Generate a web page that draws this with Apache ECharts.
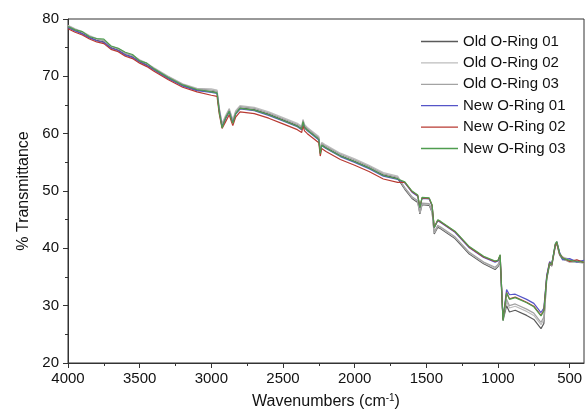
<!DOCTYPE html>
<html>
<head>
    <meta charset="utf-8">
    <title>FTIR O-Ring</title>
    <script src="https://cdn.jsdelivr.net/npm/echarts@6.0.0/dist/echarts.min.js"></script>
</head>
<body style="margin:0px;background-color:#fff;">
    <div id="main" style="width:587px;height:416px;"></div>
    <script type="text/javascript">
        // wavenumbers (cm-1), shared by all six spectra
        var wavenumbers = [4000,3950,3900,3850,3800,3750,3700,3650,3600,3550,3500,3450,3400,3300,3200,3100,
            3000,2960,2945,2925,2900,2875,2860,2850,2830,2800,2700,2600,2500,2400,2370,2360,2350,2330,2250,2240,2230,2200,2100,2000,1900,1800,1700,
            1650,1600,1560,1545,1530,1480,1460,1445,1420,1400,1300,1200,1100,1020,
            1000,985,965,940,920,880,800,750,700,680,
            660,640,625,600,590,570,550,500,450,400];

        var oldRing01 = [78.6,78.0,77.5,76.8,76.3,76.0,75.0,74.6,73.8,73.4,72.6,72.0,71.2,69.7,68.4,67.6,
            67.4,67.2,64.2,61.4,62.8,64.0,62.8,62.1,63.6,64.5,64.2,63.4,62.4,61.4,60.9,62.1,61.2,60.7,59.1,56.8,58.1,57.6,56.2,55.2,54.1,52.8,52.2,
            50.3,48.7,48.0,46.0,47.6,47.5,46.3,42.5,43.7,43.4,41.7,39.0,37.3,36.3,
            36.8,37.7,27.4,30.0,28.9,29.2,28.3,27.6,26.0,26.9,
            34.6,37.2,36.9,40.4,40.8,38.8,38.1,37.7,37.9,37.5];
        var oldRing02 = [78.9,78.3,77.8,77.1,76.6,76.3,75.3,74.9,74.1,73.7,72.9,72.3,71.5,70.0,68.7,67.9,
            67.8,67.6,64.6,61.8,63.2,64.4,63.2,62.5,64.0,64.9,64.6,63.8,62.8,61.8,61.3,62.5,61.6,61.1,59.5,57.2,58.5,58.0,56.6,55.6,54.5,53.2,52.6,
            50.5,48.9,48.2,46.2,47.8,47.7,46.5,42.7,43.9,43.6,41.9,39.2,37.5,36.5,
            37.0,37.9,27.8,30.7,29.6,29.9,29.0,28.3,26.7,27.6,
            35.2,37.6,37.3,40.8,41.2,39.2,38.5,38.1,37.8,37.8];
        var oldRing03 = [78.8,78.2,77.7,77.0,76.5,76.2,75.2,74.8,74.0,73.6,72.8,72.2,71.4,69.9,68.6,67.8,
            67.6,67.4,64.4,61.6,63.0,64.2,63.0,62.3,63.8,64.7,64.4,63.6,62.6,61.6,61.1,62.3,61.4,60.9,59.3,57.0,58.3,57.8,56.4,55.4,54.3,53.0,52.4,
            50.6,49.0,48.3,46.3,47.9,47.8,46.6,42.8,44.0,43.7,42.0,39.3,37.6,36.7,
            37.2,38.1,27.5,31.1,30.0,30.3,29.4,28.7,27.1,28.0,
            35.0,37.4,37.0,40.5,40.9,38.9,38.2,37.6,37.6,37.4];
        var newRing01 = [78.5,77.9,77.4,76.7,76.2,75.9,74.9,74.5,73.7,73.3,72.5,71.9,71.1,69.6,68.3,67.5,
            67.2,67.0,64.0,61.2,62.6,63.8,62.6,61.9,63.4,64.3,64.0,63.2,62.2,61.2,60.7,61.9,61.0,60.5,58.9,56.6,57.9,57.4,56.0,55.0,53.9,52.6,52.0,
            51.4,49.8,49.1,47.1,48.7,48.6,47.4,43.6,44.8,44.5,42.8,40.1,38.4,37.6,
            37.8,38.7,27.7,32.8,31.9,32.0,31.1,30.4,28.8,29.6,
            35.3,37.7,37.2,40.7,41.1,39.3,38.0,38.2,37.6,37.9];
        var newRing02 = [78.3,77.7,77.2,76.5,76.0,75.7,74.7,74.3,73.5,73.1,72.3,71.7,70.9,69.4,68.1,67.3,
            66.7,66.5,63.5,60.9,62.1,63.3,62.1,61.4,62.9,63.8,63.5,62.7,61.7,60.7,60.2,61.4,60.5,60.0,58.4,56.1,57.4,56.9,55.5,54.5,53.4,52.1,51.5,
            51.5,49.9,49.2,47.2,48.8,48.7,47.5,43.7,44.9,44.6,42.9,40.2,38.5,37.7,
            37.9,38.8,27.6,32.3,31.2,31.5,30.6,29.9,28.3,29.2,
            35.0,37.5,37.1,40.6,41.0,39.0,38.4,37.7,38.0,37.5];
        var newRing03 = [78.7,78.1,77.8,76.9,76.6,76.5,75.3,74.9,74.2,73.8,72.7,72.3,71.3,69.8,68.5,67.7,
            67.3,67.1,63.8,61.0,62.8,63.9,62.5,61.8,63.5,64.4,64.1,63.3,62.3,61.3,60.8,62.1,61.1,60.6,59.0,56.5,58.0,57.5,56.1,55.1,54.0,52.7,52.1,
            51.6,50.0,49.3,47.1,48.9,48.8,47.6,43.6,45.0,44.7,43.0,40.3,38.6,37.8,
            37.9,38.9,27.4,32.2,31.1,31.4,30.5,29.8,28.2,29.1,
            34.8,37.4,37.2,40.8,41.2,39.1,38.3,37.9,37.7,37.6];

        var seriesNames = ['Old O-Ring 01', 'Old O-Ring 02', 'Old O-Ring 03', 'New O-Ring 01', 'New O-Ring 02', 'New O-Ring 03'];
        var seriesValues = [oldRing01, oldRing02, oldRing03, newRing01, newRing02, newRing03];
        var seriesColors = ['#5a5a5a', '#bdbdbd', '#a3a3a3', '#5555c8', '#b83a32', '#4f9d4f'];

        var majorTicks = [4000, 3500, 3000, 2500, 2000, 1500, 1000, 500];
        var minorTicks = [3750, 3250, 2750, 2250, 1750, 1250, 750];

        function pairs(vals) {
            var out = [];
            for (var i = 0; i < wavenumbers.length; i++) {
                out.push([wavenumbers[i], vals[i]]);
            }
            return out;
        }

        var series = [];
        for (var i = 0; i < seriesNames.length; i++) {
            series.push({
                name: seriesNames[i],
                type: 'line',
                xAxisIndex: 0,
                symbol: 'none',
                silent: true,
                lineStyle: { width: 1.2, color: seriesColors[i] },
                itemStyle: { color: seriesColors[i] },
                data: pairs(seriesValues[i])
            });
        }

        var font = 'Liberation Sans';
        var myChart = echarts.init(document.getElementById('main'));
        var option = {
            animation: false,
            textStyle: { fontFamily: font },
            grid: {
                left: 68, right: 3, top: 19, bottom: 53,
                show: true, borderColor: '#333', borderWidth: 1
            },
            legend: {
                orient: 'vertical',
                left: 416, top: 29,
                itemWidth: 37, itemHeight: 14, itemGap: 6.4,
                icon: 'path://M0,0 L37,0 L37,1.3 L0,1.3 Z',
                textStyle: { fontFamily: font, fontSize: 15, color: '#111' },
                data: seriesNames
            },
            xAxis: [{
                type: 'value',
                inverse: true,
                min: 400, max: 4000,
                name: 'Wavenumbers (cm{sup|-1})',
                nameLocation: 'middle',
                nameGap: 30,
                nameTextStyle: {
                    fontFamily: font, fontSize: 16, color: '#111',
                    rich: { sup: { fontSize: 10, verticalAlign: 'top', padding: [0, 0, 8, 0], fontFamily: font, color: '#111' } }
                },
                splitLine: { show: false },
                axisLine: { lineStyle: { color: '#333', width: 1 } },
                axisTick: { customValues: majorTicks, length: 5, lineStyle: { color: '#333' } },
                axisLabel: {
                    customValues: majorTicks, fontSize: 15, color: '#111', margin: 8,
                    formatter: function (v) { return String(v); }
                }
            }, {
                type: 'value',
                inverse: true,
                position: 'bottom',
                min: 400, max: 4000,
                splitLine: { show: false },
                axisLine: { show: false },
                axisTick: { customValues: minorTicks, length: 3, lineStyle: { color: '#333' } },
                axisLabel: { show: false }
            }],
            yAxis: {
                type: 'value',
                min: 20, max: 80, interval: 10,
                name: '% Transmittance',
                nameLocation: 'middle',
                nameGap: 34,
                nameTextStyle: { fontFamily: font, fontSize: 16, color: '#111' },
                splitLine: { show: false },
                axisLine: { show: true, lineStyle: { color: '#333', width: 1 } },
                axisTick: { show: true, length: 5, lineStyle: { color: '#333' } },
                minorTick: { show: true, splitNumber: 2, length: 3, lineStyle: { color: '#333' } },
                axisLabel: { fontSize: 15, color: '#111', margin: 9 }
            },
            series: series
        };
        myChart.setOption(option);
    </script>
</body>
</html>
